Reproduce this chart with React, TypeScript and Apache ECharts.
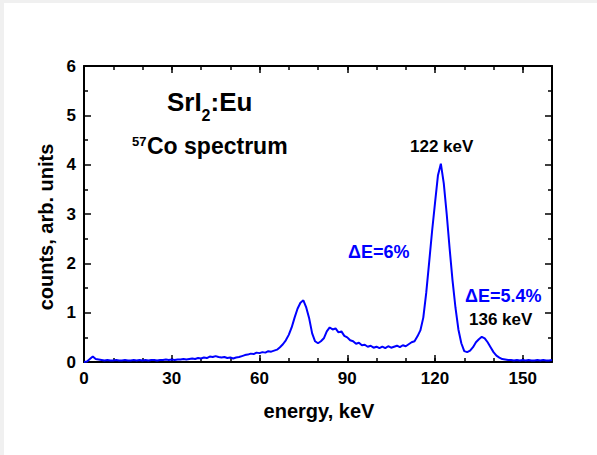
import React, { useEffect, useRef } from 'react';
import * as echarts from 'echarts';

// counts (arb. units) read at 1 keV steps, energy = index in keV
const countsLow = [
  0.0, 0.01, 0.06, 0.11, 0.06, 0.05, 0.04, 0.03, 0.04, 0.03,
  0.03, 0.04, 0.03, 0.03, 0.04, 0.03, 0.03, 0.04, 0.03, 0.04,
  0.03, 0.04, 0.03, 0.04, 0.04, 0.03, 0.04, 0.04, 0.05, 0.04,
  0.05, 0.04, 0.05, 0.05, 0.06, 0.05, 0.06, 0.07, 0.06, 0.08,
  0.07, 0.09, 0.08, 0.11, 0.1, 0.12, 0.1, 0.09, 0.1, 0.08,
  0.09, 0.07, 0.09, 0.1, 0.12, 0.14, 0.15, 0.17, 0.16, 0.19,
];
const countsMid = [
  0.18, 0.2, 0.19, 0.22, 0.21, 0.23, 0.25, 0.3, 0.36, 0.44,
  0.55, 0.7, 0.9, 1.08, 1.2, 1.25, 1.1, 0.88, 0.58, 0.42,
  0.38, 0.42, 0.48, 0.62, 0.7, 0.66, 0.68, 0.6, 0.62, 0.53,
  0.5, 0.44, 0.42, 0.37, 0.39, 0.34, 0.35, 0.31, 0.33, 0.29,
  0.31, 0.28, 0.31, 0.28, 0.32, 0.29, 0.31, 0.33, 0.3, 0.34,
  0.32, 0.36,
];
const countsHigh = [
  0.4, 0.42, 0.52, 0.64, 0.9, 1.4, 2.02, 2.65, 3.22, 3.78,
  4.02, 3.62, 3.0, 2.3, 1.65, 1.1, 0.66, 0.38, 0.22, 0.2,
  0.23, 0.3, 0.4, 0.46, 0.51, 0.48, 0.4, 0.3, 0.2, 0.13,
  0.09, 0.06, 0.05, 0.04, 0.04, 0.03, 0.04, 0.03, 0.04, 0.03,
  0.04, 0.03, 0.03, 0.04, 0.03, 0.04, 0.03, 0.03, 0.04,
];
const xTickLabels = [0, 30, 60, 90, 120, 150];
const yTickLabels = [0, 1, 2, 3, 4, 5, 6];

const FONT = 'Liberation Sans, Arial, sans-serif';

export default function App() {
  const ref = useRef<HTMLDivElement>(null);
  useEffect(() => {
    if (!ref.current) return;
    const chart = echarts.init(ref.current, undefined, { renderer: 'svg' });
    const counts = [...countsLow, ...countsMid, ...countsHigh];
    const data = counts.map((v, i) => [i, v]);
    const grid = { left: 84, top: 66, width: 468, height: 296 };
    const labelStyle = {
      fontSize: 17,
      fontWeight: 'bold' as const,
      fontFamily: FONT,
      color: '#000',
    };
    const majorX = (position: 'top' | 'bottom', labels: boolean) => ({
      type: 'value' as const,
      gridIndex: 0,
      position,
      min: 0,
      max: 160,
      interval: 30,
      axisLine: { show: true, onZero: false, lineStyle: { color: '#000', width: 2 } },
      axisTick: { show: true, inside: true, length: 7, lineStyle: { color: '#000', width: 1.5 } },
      axisLabel: {
        show: labels,
        margin: 8,
        ...labelStyle,
        formatter: (v: number) => (xTickLabels.includes(v) ? String(v) : ''),
      },
      splitLine: { show: false },
    });
    const minorX = (position: 'top' | 'bottom') => ({
      type: 'value' as const,
      gridIndex: 1,
      position,
      min: 0,
      max: 160,
      interval: 10,
      axisLine: { show: false, onZero: false },
      axisTick: { show: true, inside: true, length: 4, lineStyle: { color: '#000', width: 1.5 } },
      axisLabel: { show: false },
      splitLine: { show: false },
    });
    const majorY = (position: 'left' | 'right', labels: boolean) => ({
      type: 'value' as const,
      gridIndex: 0,
      position,
      min: 0,
      max: 6,
      interval: 1,
      axisLine: { show: true, onZero: false, lineStyle: { color: '#000', width: 2 } },
      axisTick: { show: true, inside: true, length: 7, lineStyle: { color: '#000', width: 1.5 } },
      minorTick: { show: true, splitNumber: 2, length: 4, lineStyle: { color: '#000', width: 1.5 } },
      axisLabel: {
        show: labels,
        margin: 8,
        ...labelStyle,
        formatter: (v: number) => (yTickLabels.includes(v) ? String(v) : ''),
      },
      splitLine: { show: false },
      minorSplitLine: { show: false },
    });
    const textEl = (
      text: string,
      x: number,
      y: number,
      size: number,
      fill = '#000',
      align = 'left',
      rotation = 0
    ) => ({
      type: 'text' as const,
      x,
      y,
      rotation,
      style: {
        text,
        fontSize: size,
        fontWeight: 'bold',
        fontFamily: FONT,
        fill,
        align,
        verticalAlign: 'middle',
      },
    });
    chart.setOption({
      animation: false,
      backgroundColor: '#fff',
      grid: [
        { ...grid, containLabel: false },
        { ...grid, containLabel: false },
      ],
      xAxis: [majorX('bottom', true), majorX('top', false), minorX('bottom'), minorX('top')],
      yAxis: [
        majorY('left', true),
        majorY('right', false),
        { type: 'value', gridIndex: 1, min: 0, max: 6, show: false },
      ],
      series: [
        {
          type: 'line',
          xAxisIndex: 0,
          yAxisIndex: 0,
          data,
          showSymbol: false,
          symbol: 'none',
          lineStyle: { color: '#0000ff', width: 2 },
          clip: true,
        },
      ],
      graphic: [
        { type: 'rect', shape: { x: 0, y: 0, width: 597, height: 3 }, style: { fill: '#f0f0f0' } },
        { type: 'rect', shape: { x: 0, y: 0, width: 4, height: 455 }, style: { fill: '#f0f0f0' } },
        textEl('SrI', 167, 102, 26),
        textEl('2', 201.5, 115, 16),
        textEl(':Eu', 210.5, 102, 26),
        textEl('57', 132, 141, 13),
        textEl('Co spectrum', 147, 145.5, 23),
        textEl('122 keV', 410, 146, 17),
        textEl('\u0394E=6%', 348, 252, 18, '#0000ff'),
        textEl('\u0394E=5.4%', 465, 296, 18, '#0000ff'),
        textEl('136 keV', 469, 319, 17),
        textEl('energy, keV', 319, 411, 20, '#000', 'center'),
        textEl('counts, arb. units', 46, 227, 20, '#000', 'center', Math.PI / 2),
      ],
    });
    return () => chart.dispose();
  }, []);
  return (
    <div
      ref={ref}
      style={{ position: 'fixed', left: 0, top: 0, width: 597, height: 455 }}
    />
  );
}
